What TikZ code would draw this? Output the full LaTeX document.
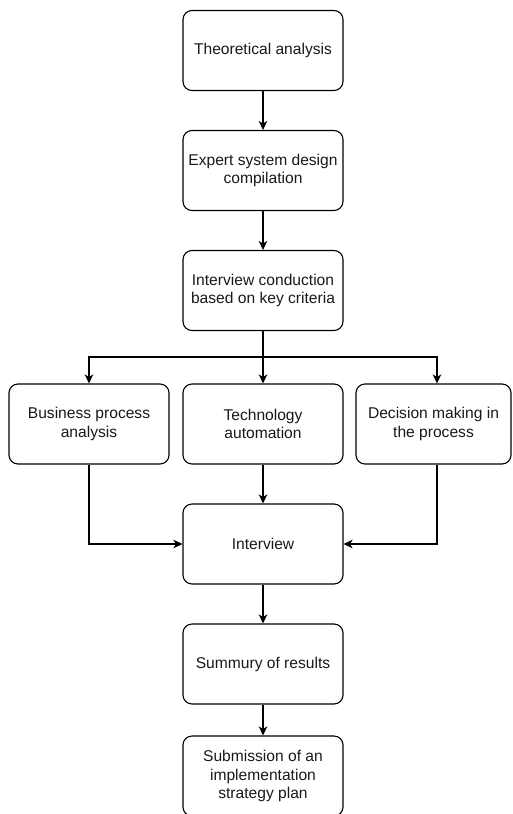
\documentclass[tikz,border=0pt]{standalone}
\usepackage{fontspec}
\setmainfont{Liberation Sans}
\usetikzlibrary{arrows.meta}
\begin{document}
\begin{tikzpicture}[x=1pt,y=-1pt,
 box/.style={draw, rounded corners=9pt, minimum width=160pt, minimum height=80pt, align=center,
   font=\fontsize{15.6}{18.5}\selectfont, line width=1.1pt, inner sep=0pt, text=black!90},
 arr/.style={-{Stealth[length=9pt,width=8.5pt,inset=2.5pt]}, line width=1.1pt}]
\useasboundingbox (0,0) rectangle (512,814);
\node[box] (a) at (263,50.5) {Theoretical analysis};
\node[box] (b) at (263,170.5) {Expert system design\\compilation};
\node[box] (c) at (263,290.5) {Interview conduction\\based on key criteria};
\node[box] (d) at (89,424) {Business process\\analysis};
\node[box] (e) at (263,424) {Technology\\automation};
\node[box, minimum width=155pt] (f) at (433.5,424) {Decision making in\\the process};
\node[box] (g) at (263,544) {Interview};
\node[box] (h) at (263,664) {Summury of results};
\node[box] (i) at (263,776) {Submission of an\\implementation\\strategy plan};
\coordinate (split) at (263,357);
\draw[arr] (a) -- (b);
\draw[arr] (b) -- (c);
\draw[arr] (c) -- (e);
\draw[arr] (split) -| (d.north);
\draw[arr] (split) -| ([xshift=3.5pt]f.north);
\draw[arr] (d.south) |- (g.west);
\draw[arr] ([xshift=3.5pt]f.south) |- (g.east);
\draw[arr] (e) -- (g);
\draw[arr] (g) -- (h);
\draw[arr] (h) -- (i);
\end{tikzpicture}
\end{document}
